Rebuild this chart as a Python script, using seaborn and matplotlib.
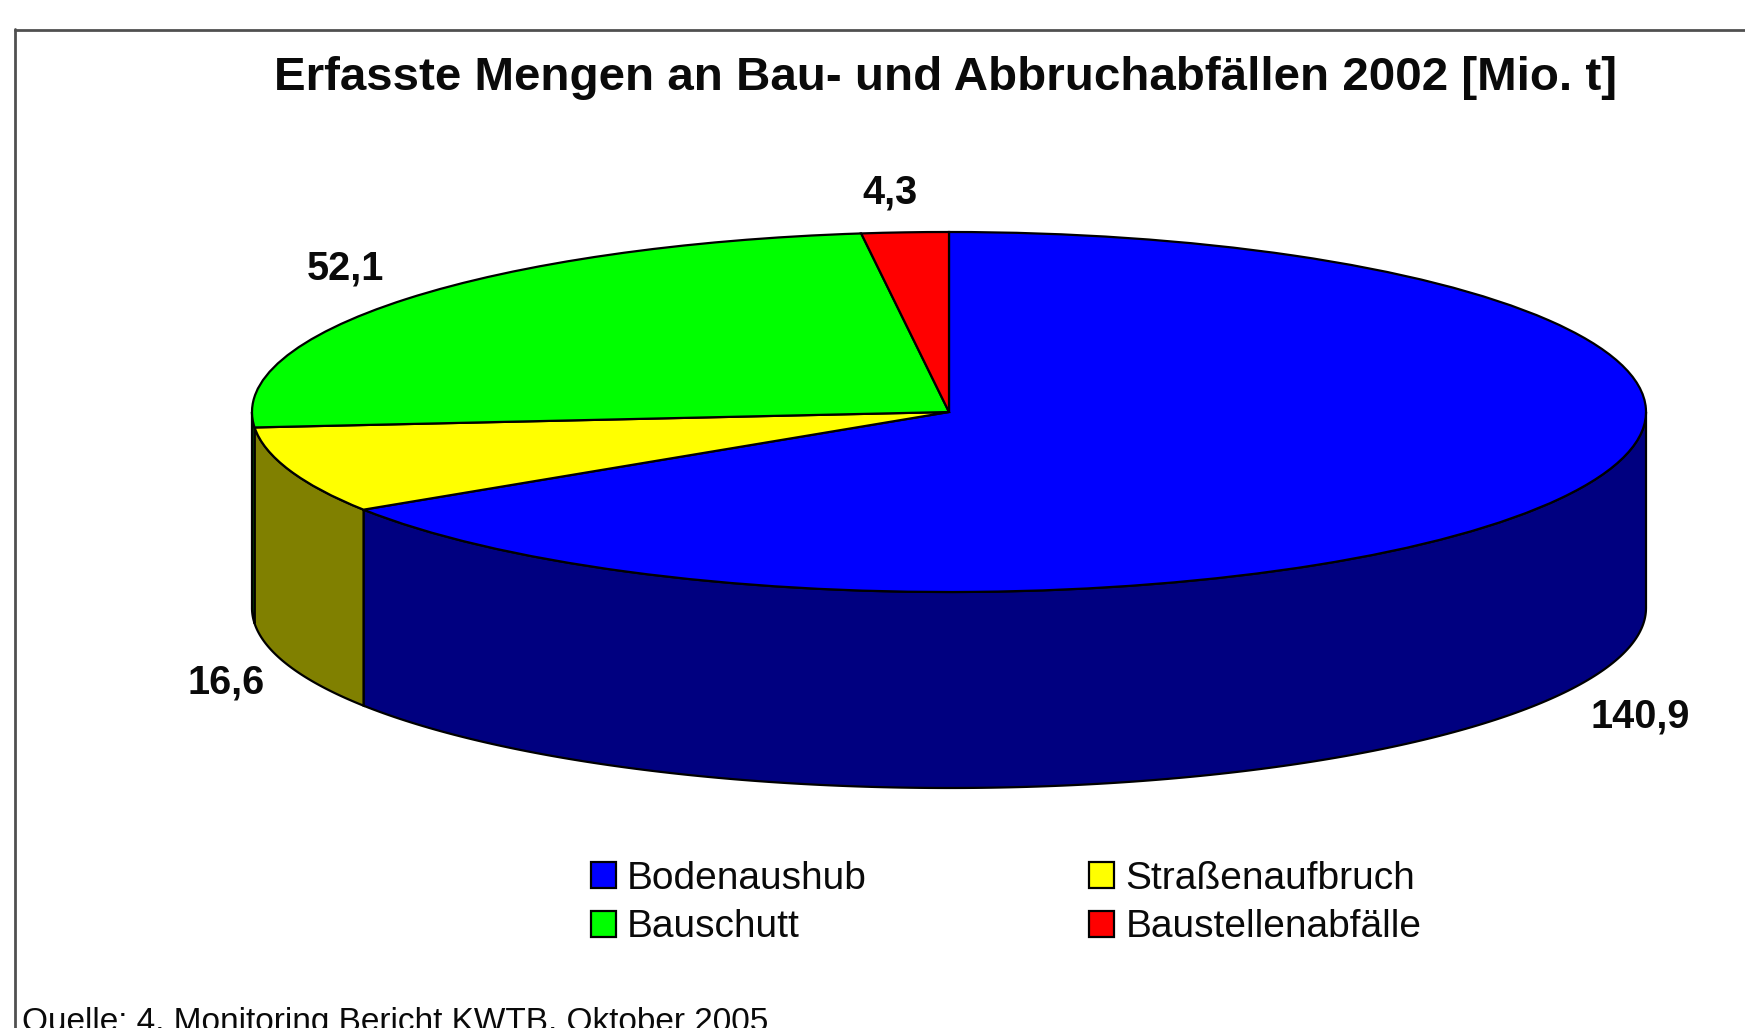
import numpy as np
import matplotlib as mpl
mpl.use('Agg')
from matplotlib import pyplot as plt
from matplotlib.lines import Line2D
import seaborn as sns

W, H = 1745, 1028

title = "Erfasste Mengen an Bau- und Abbruchabfällen 2002 [Mio. t]"
source = "Quelle: 4. Monitoring Bericht KWTB, Oktober 2005"
categories = ["Bodenaushub", "Straßenaufbruch", "Bauschutt", "Baustellenabfälle"]
values = [140.9, 16.6, 52.1, 4.3]
value_labels = ["140,9", "16,6", "52,1", "4,3"]
top_colors = ["#0000ff", "#ffff00", "#00ff00", "#ff0000"]
side_colors = ["#000080", "#808000", "#008000", "#800000"]

sns.set_theme(style="white")
plt.rcParams['font.family'] = ['Liberation Sans', 'DejaVu Sans']


def fx(px):
    return px / W


def fy(px):
    return 1 - px / H


fig = plt.figure(figsize=(W / 100, H / 100), dpi=100, facecolor="white")

# pie disc is 1394 x 360 px, wall 196 px deep
left, right, top, bottom = 252.0, 1646.0, 232.0, 788.0
ax = fig.add_axes([fx(left), fy(bottom), (right - left) / W, (bottom - top) / H])
depth = 196.0 / 180.0

wedges, _ = ax.pie(values, colors=sns.color_palette(top_colors), startangle=90, counterclock=False,
                   radius=1, wedgeprops=dict(edgecolor="black", linewidth=1.6, zorder=3))
ax.set_aspect('auto')
ax.set_xlim(-1, 1)
ax.set_ylim(-1 - depth, 1)

# side wall, front half of the disc only
angles = 90 - 360 * np.cumsum([0] + values) / np.sum(values)
for i in range(len(values)):
    a0, a1 = angles[i], angles[i + 1]
    a_start = np.clip(a0, -180, 0)
    a_end = np.clip(a1, -180, 0)
    if a_start == a_end:
        continue
    t = np.radians(np.linspace(a_start, a_end, 200))
    xs = np.cos(t)
    ys = np.sin(t)
    ax.fill(np.r_[xs, xs[::-1]], np.r_[ys, ys[::-1] - depth], facecolor=side_colors[i],
            edgecolor="black", linewidth=1.6, zorder=2, clip_on=False)

# value labels
fig.text(fx(1640), fy(716), value_labels[0], fontsize=28.5, fontweight="bold", ha="center", va="center", color="#0a0a0a")
fig.text(fx(226), fy(682), value_labels[1], fontsize=28.5, fontweight="bold", ha="center", va="center", color="#0a0a0a")
fig.text(fx(345), fy(269), value_labels[2], fontsize=28.5, fontweight="bold", ha="center", va="center", color="#0a0a0a")
fig.text(fx(890), fy(193), value_labels[3], fontsize=28.5, fontweight="bold", ha="center", va="center", color="#0a0a0a")

fig.text(fx(946), fy(78), title, fontsize=34.2, fontweight="bold", ha="center", va="center", color="#0a0a0a")

# legend, column order differs from the slice order
order = [0, 2, 1, 3]
fig.legend([wedges[i] for i in order], [categories[i] for i in order], ncols=2, frameon=False,
           loc="upper left", bbox_to_anchor=(fx(591), fy(861)), borderpad=0, borderaxespad=0,
           fontsize=28, handlelength=0.64, handleheight=0.66, handletextpad=0.28,
           columnspacing=5.73, labelspacing=0.32, labelcolor="#0a0a0a")

# cut by the bottom edge in the original too
fig.text(fx(22), fy(1022), source, fontsize=24, ha="left", va="center", color="#0a0a0a")

# chart frame, only left and top edges are inside the picture
fig.add_artist(Line2D([fx(14.5), fx(14.5)], [0, fy(29)], color="#505050", linewidth=2))
fig.add_artist(Line2D([fx(14.5), 1], [fy(29.5), fy(29.5)], color="#505050", linewidth=2))

fig.savefig("out.png", dpi=100)
